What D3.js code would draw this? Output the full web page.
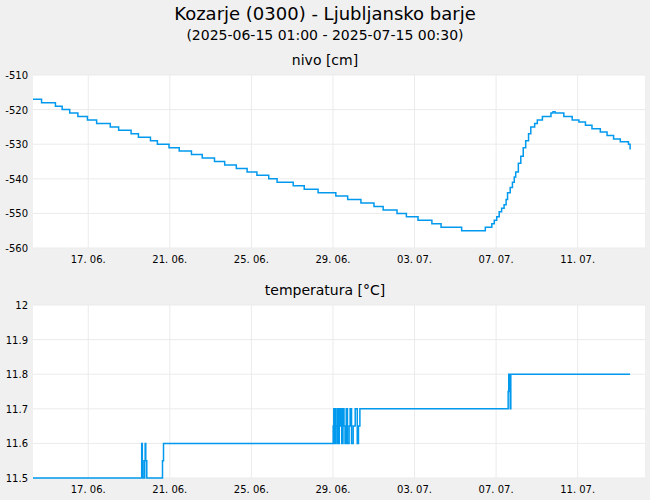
<!DOCTYPE html><html><head><meta charset="utf-8">
<script src="https://cdn.jsdelivr.net/npm/d3@7"></script>
<style>body{margin:0;background:#f0f0f0;font-family:"DejaVu Sans",sans-serif}</style></head><body>
<svg id="c" width="650" height="500"></svg>
<script>
const startTime = new Date(2025,5,14,7,0);
const endTime = new Date(2025,6,14,7,15);
const xTicks = ["2025-06-17","2025-06-21","2025-06-25","2025-06-29","2025-07-03","2025-07-07","2025-07-11"];
// level: day offsets from start, values (cm)
const levelDays = [0,0.42,1.1,1.43,1.8,2.2,2.67,3.12,3.79,4.2,4.81,5.17,5.76,6.1,6.67,7.17,7.77,8.3,8.9,9.4,9.97,10.5,10.98,11.56,11.97,12.76,13.3,13.98,14.85,15.43,16.08,16.72,17.17,17.85,18.31,18.88,19.56,20.01,21.02,22.18,22.5,22.62,22.74,22.86,22.98,23.1,23.2,23.27,23.4,23.51,23.6,23.67,23.8,23.92,24.04,24.16,24.3,24.41,24.6,24.73,24.98,25.4,25.5,25.6,26.03,26.44,26.77,27.09,27.41,27.82,28.15,28.47,28.8,29.2,29.28];
const levelVals = [-517,-518,-519,-520,-521,-522,-523,-524,-525,-526,-527,-528,-529,-530,-531,-532,-533,-534,-535,-536,-537,-538,-539,-540,-541,-542,-543,-544,-545,-546,-547,-548,-549,-550,-551,-552,-553,-554,-555,-554,-553,-552,-551,-549.5,-548.5,-547.5,-546,-544,-542.5,-541,-539.5,-538,-535.5,-533.5,-531,-529,-527,-525,-524,-523,-522,-521,-520.6,-521,-522,-523,-523.6,-524.5,-525.5,-526.5,-527.5,-528.5,-529.3,-530,-531.5];
const tempDays = [0,5.33,5.36,5.4,5.48,5.5,5.53,5.58,6.35,6.4,14.72,14.75,14.78,14.82,14.86,14.9,14.94,14.98,15.02,15.06,15.1,15.14,15.2,15.25,15.3,15.36,15.42,15.5,15.55,15.62,15.7,15.8,15.9,15.96,16.03,23.3,23.33,23.4,23.43,29.28];
const tempVals = [11.5,11.6,11.55,11.5,11.55,11.6,11.55,11.5,11.55,11.6,11.65,11.7,11.6,11.7,11.65,11.6,11.7,11.6,11.7,11.65,11.7,11.6,11.7,11.65,11.6,11.7,11.6,11.65,11.7,11.6,11.65,11.7,11.6,11.65,11.7,11.75,11.8,11.7,11.8,11.8];
const levelTicks = [-510,-520,-530,-540,-550,-560];
const tempTicks = [11.5,11.6,11.7,11.8,11.9,12];

const svg = d3.select("#c");
const fmt = d3.timeFormat("%d. %m.");
const toDate = d => new Date(+startTime + d*864e5);
svg.append("text").attr("x",325).attr("y",20).attr("text-anchor","middle").attr("font-size",18).text("Kozarje (0300) - Ljubljansko barje");
svg.append("text").attr("x",325).attr("y",40).attr("text-anchor","middle").attr("font-size",14).text("(2025-06-15 01:00 - 2025-07-15 00:30)");

function panel(top, bottom, title, dom, ticks, days, vals, tf){
  const x = d3.scaleTime().domain([startTime,endTime]).range([33,645]);
  const y = d3.scaleLinear().domain(dom).range([bottom,top]);
  svg.append("rect").attr("x",33).attr("y",top).attr("width",612).attr("height",bottom-top).attr("fill","#fff");
  svg.append("text").attr("x",325).attr("y",top-10).attr("text-anchor","middle").attr("font-size",14).text(title);
  const g = svg.append("g");
  xTicks.forEach(t=>{const xx=x(new Date(t+"T00:00")); g.append("line").attr("x1",xx).attr("x2",xx).attr("y1",top).attr("y2",bottom).attr("stroke","#ebebeb");
    svg.append("text").attr("x",xx).attr("y",bottom+15).attr("text-anchor","middle").attr("font-size",10).text(fmt(new Date(t+"T00:00")));});
  ticks.forEach(t=>{const yy=y(t); g.append("line").attr("x1",33).attr("x2",645).attr("y1",yy).attr("y2",yy).attr("stroke","#ebebeb");
    svg.append("text").attr("x",28).attr("y",yy+4).attr("text-anchor","end").attr("font-size",10).text(tf(t));});
  const pts = days.map((d,i)=>[toDate(d),vals[i]]);
  svg.append("path").datum(pts).attr("fill","none").attr("stroke","#0099ee").attr("stroke-width",1.5)
    .attr("d",d3.line().x(d=>x(d[0])).y(d=>y(d[1])).curve(d3.curveStepAfter));
}
panel(75,248,"nivo [cm]",[-560,-510],levelTicks,levelDays,levelVals,d=>d);
panel(305,478,"temperatura [°C]",[11.5,12],tempTicks,tempDays,tempVals,d=>d3.format("~g")(d));
</script></body></html>
